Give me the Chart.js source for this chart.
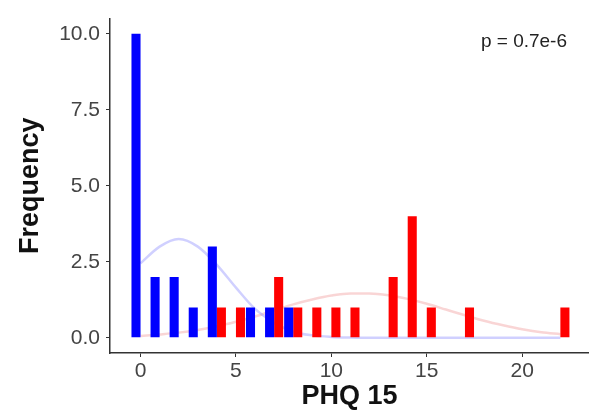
<!DOCTYPE html>
<html>
<head>
    <title>PHQ 15 Frequency</title>
    <script src="https://cdn.jsdelivr.net/npm/chart.js"></script>
    <style>
        body {
            margin: 0;
            background: #fff;
        }

        .chart-box {
            position: relative;
            width: 589px;
            height: 419px;
        }
    </style>
</head>

<body>
    <div class="chart-box">
        <canvas id="graph"></canvas>
    </div>

    <script>
        // bar counts per PHQ 15 score
        var blueScores = [0, 1, 2, 3, 4, 6, 7, 8];
        var blueCounts = [10, 2, 2, 1, 3, 1, 1, 1];
        var redScores = [4, 5, 7, 8, 9, 10, 11, 13, 14, 15, 17, 22];
        var redCounts = [1, 1, 2, 1, 1, 1, 1, 2, 4, 1, 1, 1];

        // fitted curves at each score
        var curveScores = [0, 1, 2, 3, 4, 5, 6, 7, 8, 9, 10, 11, 12, 13, 14, 15, 16, 17, 18, 19, 20, 21, 22];
        var blueCurve = [2.45, 3.0, 3.25, 3.0, 2.4, 1.65, 0.95, 0.5, 0.2, 0.08, 0.03, 0.01, 0, 0, 0, 0, 0, 0, 0, 0, 0, 0, 0];
        var redCurve = [0.06, 0.11, 0.17, 0.26, 0.38, 0.53, 0.7, 0.9, 1.1, 1.26, 1.39, 1.46, 1.46, 1.4, 1.28, 1.12, 0.93, 0.74, 0.56, 0.41, 0.28, 0.18, 0.12];

        var xTicks = [0, 5, 10, 15, 20];
        var yTicks = [0, 2.5, 5, 7.5, 10];
        var yTickLabels = ["0.0", "2.5", "5.0", "7.5", "10.0"];
        var pValueText = "p = 0.7e-6";

        function toPoints(xs, ys) {
            return xs.map(function (x, i) { return { x: x, y: ys[i] }; });
        }

        var fontFamily = "'Liberation Sans', Arial, sans-serif";

        // draws the p value in the top right corner
        var pValuePlugin = {
            id: "pValue",
            afterDraw: function (chart) {
                var ctx = chart.ctx;
                ctx.save();
                ctx.font = "19px " + fontFamily;
                ctx.fillStyle = "#222";
                ctx.textAlign = "right";
                ctx.textBaseline = "middle";
                ctx.fillText(pValueText, 567, 42);
                ctx.restore();
            }
        };

        var ctx = document.getElementById("graph").getContext("2d");
        new Chart(ctx, {
            type: "bar",
            data: {
                datasets: [
                    {
                        type: "bar",
                        data: toPoints(blueScores, blueCounts),
                        backgroundColor: "#0000ff",
                        categoryPercentage: 0.95,
                        barPercentage: 1,
                        order: 1
                    },
                    {
                        type: "bar",
                        data: toPoints(redScores, redCounts),
                        backgroundColor: "#ff0000",
                        categoryPercentage: 0.95,
                        barPercentage: 1,
                        order: 1
                    },
                    {
                        type: "line",
                        data: toPoints(curveScores, blueCurve),
                        borderColor: "rgba(150, 150, 255, 0.45)",
                        borderWidth: 2.5,
                        pointRadius: 0,
                        cubicInterpolationMode: "monotone",
                        fill: false,
                        order: 2
                    },
                    {
                        type: "line",
                        data: toPoints(curveScores, redCurve),
                        borderColor: "rgba(240, 150, 150, 0.4)",
                        borderWidth: 2.5,
                        pointRadius: 0,
                        cubicInterpolationMode: "monotone",
                        fill: false,
                        order: 2
                    }
                ]
            },
            options: {
                responsive: true,
                maintainAspectRatio: false,
                animation: false,
                layout: {
                    padding: { left: 0, right: 0, top: 15, bottom: 0 }
                },
                plugins: {
                    legend: { display: false },
                    tooltip: { enabled: false }
                },
                scales: {
                    x: {
                        type: "linear",
                        min: -1.6,
                        max: 23.5,
                        offset: false,
                        afterFit: function (scale) { scale.height = 66; },
                        afterBuildTicks: function (scale) {
                            scale.ticks = xTicks.map(function (v) { return { value: v }; });
                        },
                        border: { display: true, color: "#333", width: 1.5 },
                        grid: { offset: false, drawOnChartArea: false, drawTicks: true, tickLength: 4, color: "#333" },
                        ticks: {
                            color: "#444",
                            padding: 2,
                            maxRotation: 0,
                            font: { family: fontFamily, size: 21 }
                        },
                        title: {
                            display: true,
                            text: "PHQ 15",
                            color: "#111",
                            padding: { top: 0, bottom: 6 },
                            font: { family: fontFamily, size: 27, weight: "bold" }
                        }
                    },
                    y: {
                        min: -0.5,
                        max: 10.5,
                        afterFit: function (scale) { scale.width = 110; },
                        afterBuildTicks: function (scale) {
                            scale.ticks = yTicks.map(function (v) { return { value: v }; });
                        },
                        border: { display: true, color: "#333", width: 1.5 },
                        grid: { drawOnChartArea: false, drawTicks: true, tickLength: 4, color: "#333" },
                        ticks: {
                            color: "#444",
                            padding: 6,
                            font: { family: fontFamily, size: 21 },
                            callback: function (value) {
                                var i = yTicks.indexOf(value);
                                return i >= 0 ? yTickLabels[i] : "";
                            }
                        },
                        title: {
                            display: true,
                            text: "Frequency",
                            color: "#111",
                            padding: { top: 14, bottom: 0 },
                            font: { family: fontFamily, size: 27, weight: "bold" }
                        }
                    }
                }
            },
            plugins: [pValuePlugin]
        });
    </script>
</body>
</html>
